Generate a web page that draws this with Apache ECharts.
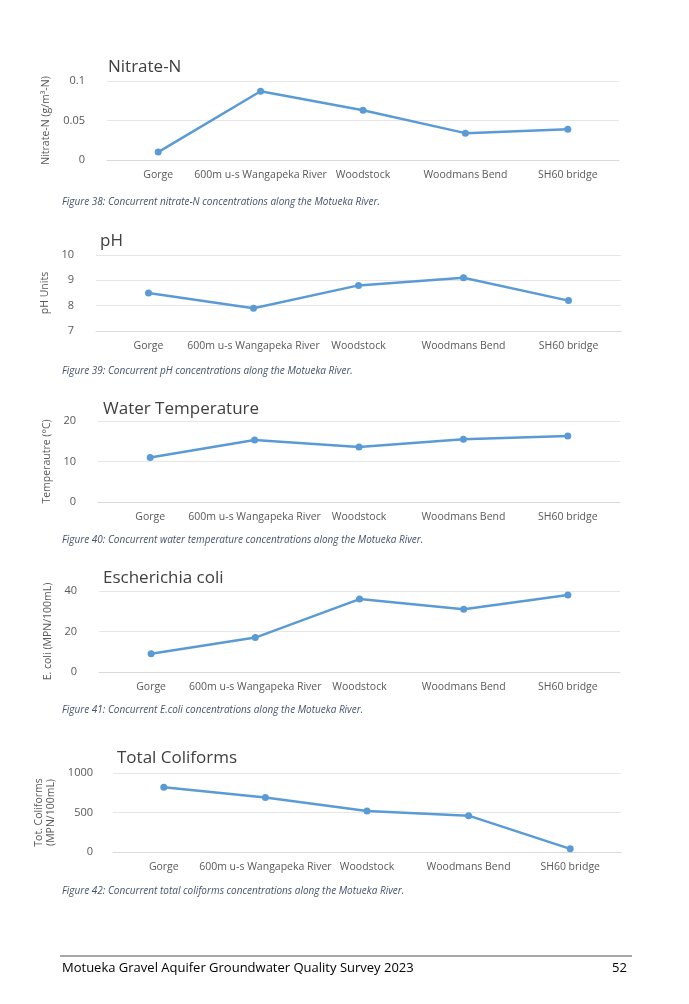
<!DOCTYPE html>
<html><head><meta charset="utf-8">
<script src="https://cdn.jsdelivr.net/npm/echarts@6/dist/echarts.min.js"></script>
<style>html,body{margin:0;padding:0;background:#fff}#c{width:689px;height:1004px}</style>
</head><body><div id="c"></div>
<script>
const sites = ['Gorge','600m u-s Wangapeka River','Woodstock','Woodmans Bend','SH60 bridge'];
const nitrate = [0.010, 0.087, 0.063, 0.034, 0.039];
const ph = [8.5, 7.9, 8.8, 9.1, 8.2];
const temp = [11.0, 15.3, 13.6, 15.5, 16.3];
const ecoli = [9, 17, 36, 31, 38];
const totalColi = [820, 690, 520, 460, 40];
const titles = ['Nitrate-N','pH','Water Temperature','Escherichia coli','Total Coliforms'];
const yNames = ['Nitrate-N (g/m³-N)','pH Units','Temperautre (°C)','E. coli (MPN/100mL)','Tot. Coliforms\n(MPN/100mL)'];
const captions = [
 'Figure 38: Concurrent nitrate-N concentrations along the Motueka River.',
 'Figure 39: Concurrent pH concentrations along the Motueka River.',
 'Figure 40: Concurrent water temperature concentrations along the Motueka River.',
 'Figure 41: Concurrent E.coli concentrations along the Motueka River.',
 'Figure 42: Concurrent total coliforms concentrations along the Motueka River.'];
const yMin=[0,7,0,0,0], yMax=[0.1,10,20,40,1000], yInt=[0.05,1,10,20,500];
const seriesData=[nitrate,ph,temp,ecoli,totalColi];
const gTop=[81,255,421,591,773], gBot=[160,331,502,672,852];
const gLeft=[107,96,98,99,113], gRight=[70,68,69,69,68];
const titleY=[59,233,401,570,750], titleX=[108,100,103,103,117];
const capY=[197,366,535,705,886];
const F='"Open Sans", sans-serif';
const grid=[],xAxis=[],yAxis=[],series=[],graphic=[];
for(let i=0;i<5;i++){
 grid.push({left:gLeft[i],right:gRight[i],top:gTop[i],height:gBot[i]-gTop[i]});
 xAxis.push({type:'category',gridIndex:i,data:sites,axisLine:{lineStyle:{color:'#d9d9d9'}},axisTick:{show:false},
  axisLabel:{color:'#595959',fontSize:10.5,fontFamily:F,margin:10,interval:0}});
 yAxis.push({type:'value',gridIndex:i,min:yMin[i],max:yMax[i],interval:yInt[i],
  axisLabel:{color:'#595959',fontSize:11,fontFamily:F,margin:i==4?20:22,formatter:v=>String(v)},
  splitLine:{lineStyle:{color:'#e6e6e6'}},axisLine:{show:false},
  name:yNames[i],nameLocation:'middle',nameRotate:90,nameGap:i==4?40:(i==0?46:40),
  nameTextStyle:{color:'#595959',fontSize:10.5,fontFamily:F,lineHeight:12}});
 series.push({type:'line',xAxisIndex:i,yAxisIndex:i,data:seriesData[i],symbol:'circle',symbolSize:7,
  lineStyle:{color:'#5b9bd5',width:2.5},itemStyle:{color:'#5b9bd5'}});
 graphic.push({type:'text',left:titleX[i],top:titleY[i],style:{text:titles[i],fontSize:17,fontFamily:F,fill:'#404040'}});
 graphic.push({type:'text',left:62,top:capY[i],style:{text:captions[i],fontSize:10,fontStyle:'italic',fontFamily:F,fill:'#44546a'}});
}
graphic.push({type:'rect',shape:{x:60,y:955,width:572,height:2},style:{fill:'#a6a6a6'}});
graphic.push({type:'text',left:62,top:962,style:{text:'Motueka Gravel Aquifer Groundwater Quality Survey 2023',fontSize:13,fontFamily:F,fill:'#000'}});
graphic.push({type:'text',left:612,top:962,style:{text:'52',fontSize:13,fontFamily:F,fill:'#000'}});
const chart=echarts.init(document.getElementById('c'),null,{renderer:'canvas'});
chart.setOption({animation:false,backgroundColor:'#fff',grid,xAxis,yAxis,series,graphic});
</script></body></html>
